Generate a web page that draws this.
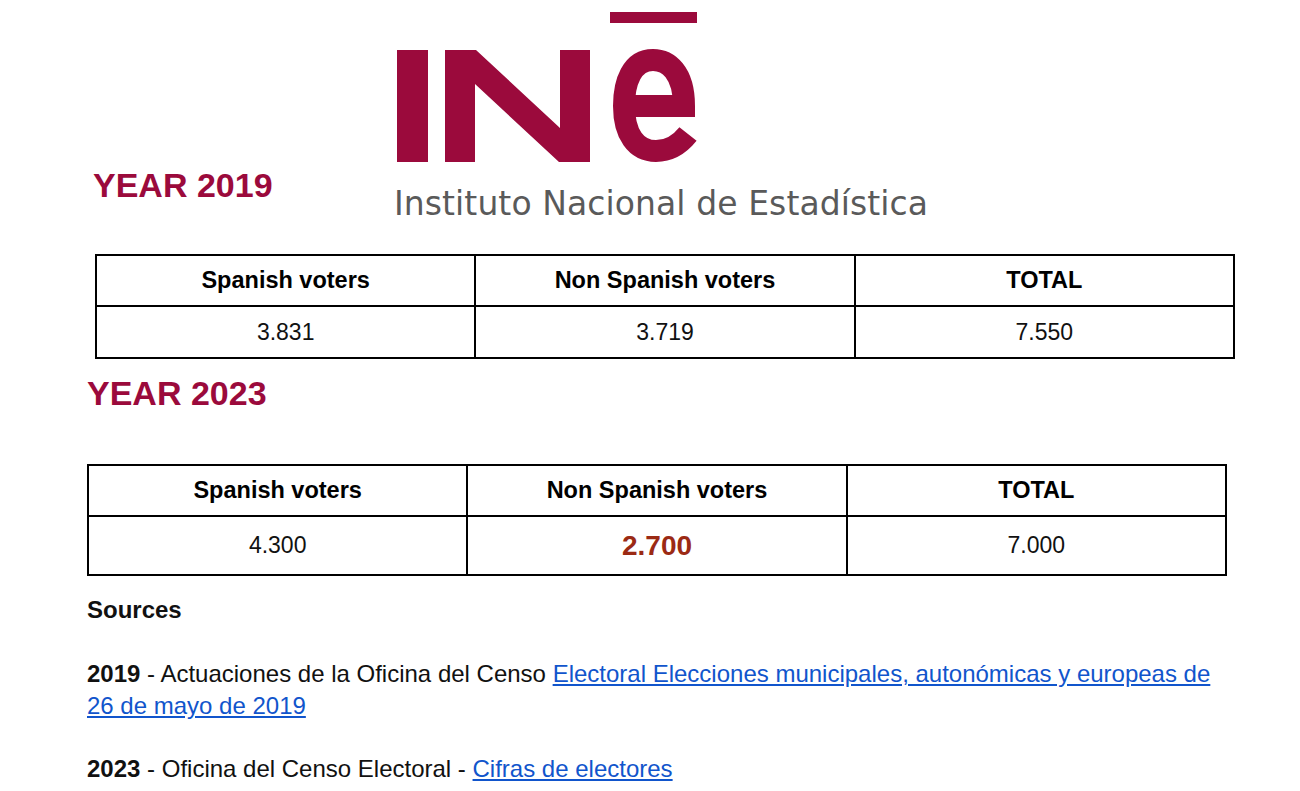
<!DOCTYPE html>
<html><head><meta charset="utf-8">
<script src="https://cdn.jsdelivr.net/npm/chart.js@4.4.0/dist/chart.umd.min.js"></script>
<style>
body{margin:0;background:#fff;font-family:"Liberation Sans",Arial,sans-serif;width:1300px;height:791px;position:relative;overflow:hidden}
.abs{position:absolute}
.year{color:#9b0a3c;font-weight:bold;font-size:34px}
table{position:absolute;border-collapse:collapse;width:1140px;table-layout:fixed}
td{border:2px solid #000;text-align:center;font-size:23px;color:#111}
th{border:2px solid #000;font-size:23.5px;font-weight:bold}
.hi{color:#9b2a14;font-weight:bold;font-size:28px}
.txt{font-size:24px;color:#111;line-height:32px}
a{color:#1155cc;text-decoration:underline}
</style></head><body>
<svg class="abs" style="left:0;top:0" width="1300" height="230">
 <g fill="#9b0a3c">
  <rect x="397" y="50" width="31" height="112"/>
  <polygon points="445,50 476,50 560,128 560,50 590,50 590,162 559,162 475,84 475,162 445,162"/>
  <rect x="610" y="12" width="87" height="11"/>
 </g>
 <path d="M625,106 L684,106 C684,72 668,60 653,60 C632,60 624,82 624,106 C624,134 636,151 656,151 C670,151 680,144 688,134" fill="none" stroke="#9b0a3c" stroke-width="22"/>
 <text x="394" y="215" font-family="DejaVu Sans, sans-serif" font-size="33" fill="#5a5a5a" textLength="534">Instituto Nacional de Estadística</text>
</svg>
<div class="abs year" style="left:93px;top:166px">YEAR 2019</div>
<table id="t1" style="left:95px;top:254px"></table>
<div class="abs year" style="left:87px;top:374px">YEAR 2023</div>
<table id="t2" style="left:87px;top:464px"></table>
<div class="abs txt" style="left:87px;top:594px;font-weight:bold">Sources</div>
<div class="abs txt" style="left:87px;top:658px;width:1140px"><b>2019</b> - Actuaciones de la Oficina del Censo <a>Electoral Elecciones municipales, autonómicas y europeas de 26 de mayo de 2019</a></div>
<div class="abs txt" style="left:87px;top:753px"><b>2023</b> - Oficina del Censo Electoral - <a>Cifras de electores</a></div>
<script>
const headers = ['Spanish voters', 'Non Spanish voters', 'TOTAL'];
const values2019 = ['3.831', '3.719', '7.550'];
const values2023 = ['4.300', '2.700', '7.000'];
function fill(id, vals, rowH, hiIdx) {
  const t = document.getElementById(id);
  t.innerHTML = '<tr style="height:51px">' + headers.map(h => '<th>' + h + '</th>').join('') + '</tr>' +
    '<tr style="height:' + rowH + 'px">' + vals.map((v, i) => '<td' + (i === hiIdx ? ' class="hi"' : '') + '>' + v + '</td>').join('') + '</tr>';
}
fill('t1', values2019, 52, -1);
fill('t2', values2023, 59, 1);
</script>
</body></html>
